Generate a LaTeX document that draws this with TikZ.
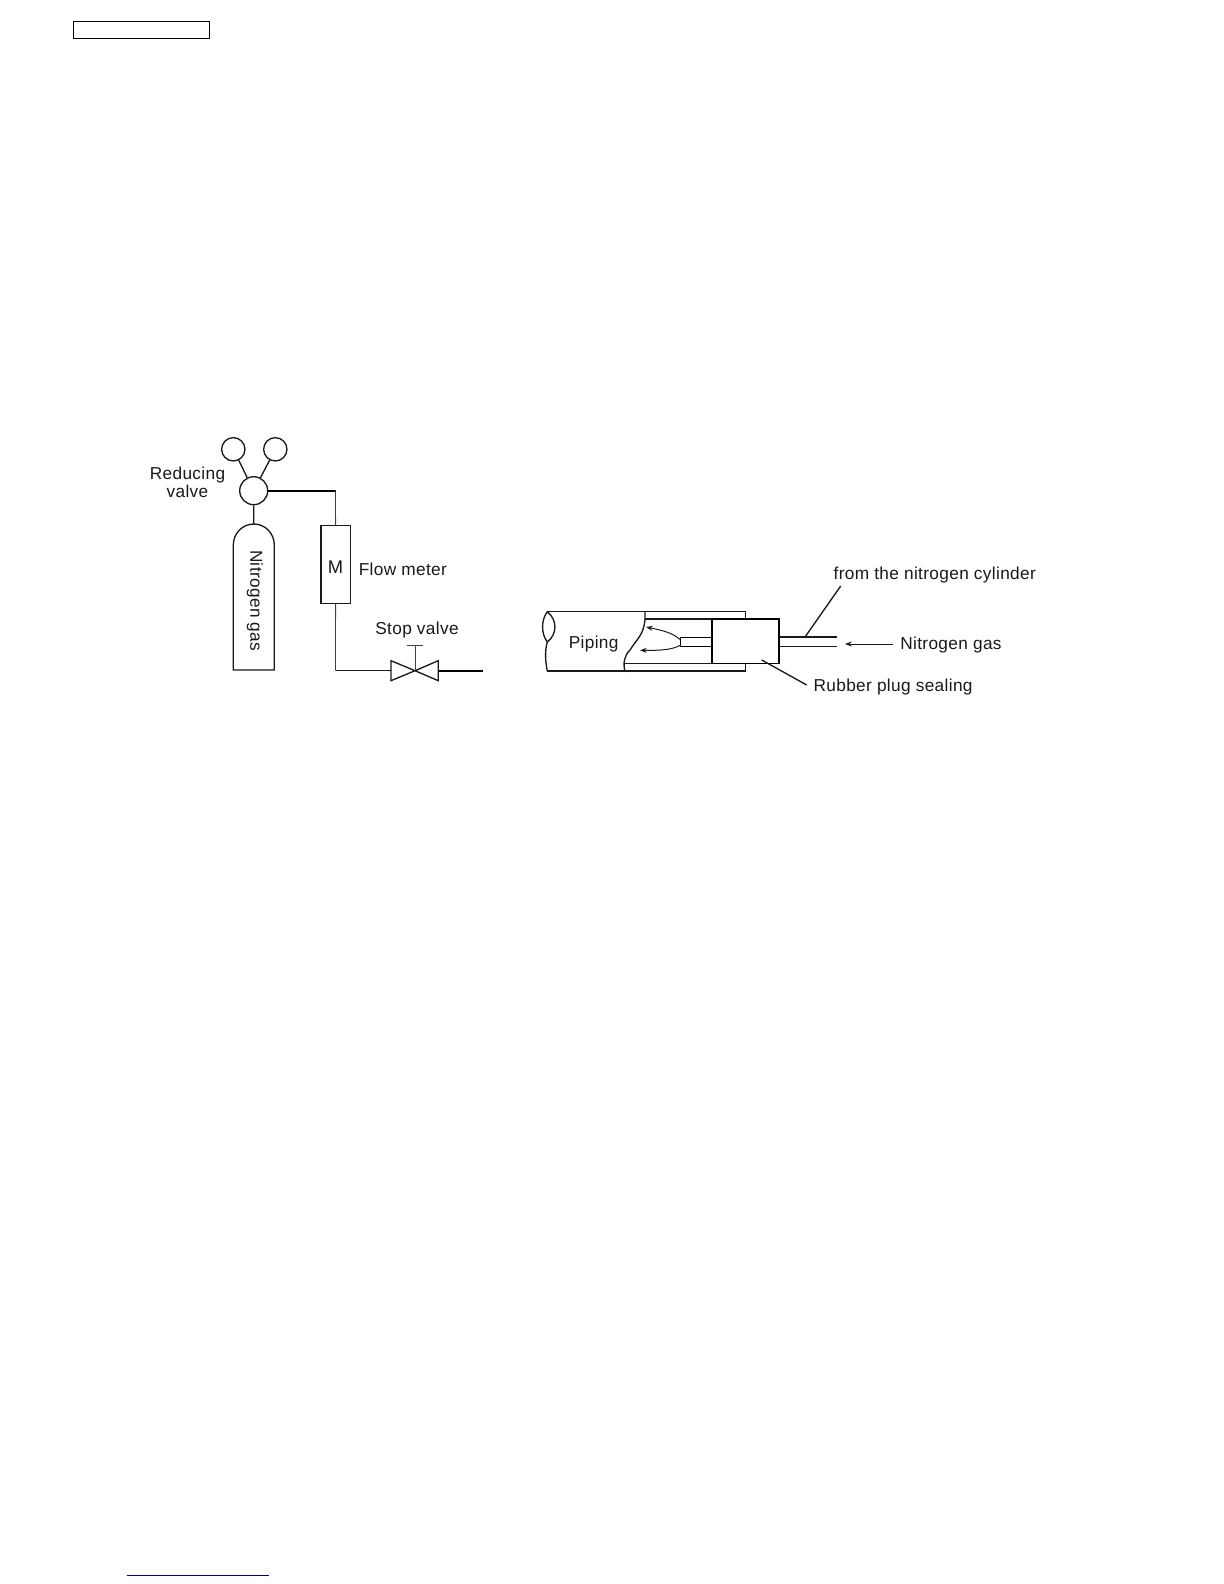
\documentclass[tikz,border=0pt]{standalone}
\usepackage{fontspec}
\setmainfont{Liberation Sans}
\newfontfamily\lbl[LetterSpace=2]{Liberation Sans}
\usetikzlibrary{arrows.meta}
\tikzset{
  x=0.6pt,y=-0.6pt,
  line/.style={draw=black!90,line width=0.8pt},
  thin line/.style={draw=black!75,line width=0.5pt},
  thick line/.style={draw=black,line width=1.1pt},
  round/.style={circle,draw=black!90,line width=0.8pt,inner sep=0pt,fill=white},
  lab/.style={inner sep=0pt,font=\fontsize{10.35}{12}\lbl,text=black!90},
  arrow/.style={draw=black!90,line width=0.6pt,-{Stealth[length=4pt,width=3pt]}}
}
\begin{document}
\begin{tikzpicture}
\useasboundingbox (0,0) rectangle (1224,1584);
% page marks
\node[draw=black,line width=0.7pt,minimum width=81.6pt,minimum height=10pt,inner sep=0pt] (hdr) at (141.5,29.8) {};
\coordinate (linkL) at (126.7,1575.3);
\coordinate (linkR) at (269,1575.3);
\draw[draw=blue!50!black,line width=0.8pt] (linkL) -- (linkR);
% nitrogen cylinder group
\node[round,minimum size=14pt] (g1) at (233.3,449.3) {};
\node[round,minimum size=14pt] (g2) at (275.3,449.3) {};
\node[round,minimum size=16.8pt] (rv) at (253.7,490.7) {};
\draw[line] (233.3,670) -- (233.3,545) arc[start angle=180,end angle=0,x radius=20.5,y radius=-21] -- (274.3,670) -- cycle;
\coordinate (cylTop) at (253.8,524);
\draw[line] (g1) -- (rv);
\draw[line] (g2) -- (rv);
\draw[line] (rv) -- (cylTop);
\node[draw=black!90,line width=0.8pt,minimum width=17.6pt,minimum height=46.6pt,inner sep=0pt] (fm) at (335.6,564.5) {};
\node[lab,font=\fontsize{11}{12}\selectfont] (mlab) at (335.5,567.5) {M};
\coordinate (elbow1) at (335.5,490.7);
\draw[thick line] (rv) -- (elbow1);
\draw[thin line] (elbow1) -- (fm.north);
\coordinate (elbow2) at (335.5,670.7);
\coordinate (vl) at (391,670.7);
\coordinate (vc) at (415,670.7);
\coordinate (vr) at (438.3,670.7);
\coordinate (outEnd) at (482.7,670.7);
\draw[thin line] (fm.south) -- (elbow2);
\draw[line] (elbow2) -- (vl);
\draw[line] (391,660.7) -- (vc) -- (391,680.7) -- cycle;
\draw[line] (438.3,660.7) -- (vc) -- (438.3,680.7) -- cycle;
\draw[thick line] (vr) -- (outEnd);
\coordinate (stemTop) at (415,645.7);
\draw[thin line] (vc) -- (stemTop);
\draw[thin line] (406.7,645.7) -- (422.7,645.7);
% labels left
\node[lab] (t1) at (187.5,474.8) {Reducing};
\node[lab] (t2) at (187.5,491.5) {valve};
\node[lab,rotate=-90] (t3) at (254.8,600.7) {Nitrogen gas};
\node[lab,anchor=west] (t4) at (358.5,569.5) {Flow meter};
\node[lab] (t5) at (417,630.3) {Stop valve};
% piping
\draw[line] (547.3,611.7) -- (745.7,611.7) -- (745.7,619);
\draw[line] (547.3,671) -- (745.7,671) -- (745.7,663.3);
\draw[line] (547.3,611.7) .. controls (541,620) and (541,634) .. (547.3,642)
  .. controls (557.5,634) and (557.5,620) .. (547.3,611.7);
\draw[line] (547.3,642) .. controls (545,650) and (545,660) .. (547.3,671);
\draw[line] (645,611.7) -- (645,619) .. controls (644,635) and (636,640) .. (630,650)
  .. controls (624,656) and (623,663) .. (625,672);
\draw[line] (645,619) -- (779.3,619);
\draw[line] (623.5,663.3) -- (779.3,663.3);
\node[draw=black,line width=0.85pt,fill=white,minimum width=40.4pt,minimum height=26.6pt,inner sep=0pt] (plug) at (745.5,641.2) {};
\node[draw=black,line width=0.7pt,minimum width=18.6pt,minimum height=5.4pt,inner sep=0pt] (nozzle) at (696.2,641.8) {};
\coordinate (a1) at (646,627);
\coordinate (a2) at (640,650.3);
\draw[arrow] (680.7,640) .. controls (672,632) and (660,630) .. (a1);
\draw[arrow] (680.7,645) .. controls (672,650) and (660,650.5) .. (a2);
\node[lab] (t6) at (593.7,644) {Piping};
% cylinder feed
\coordinate (p1) at (836.7,637);
\coordinate (p2) at (836.7,646.3);
\draw[line] (779.7,637) -- (p1);
\draw[line] (779.7,646.3) -- (p2);
\coordinate (ld1) at (840.7,586);
\coordinate (ld1e) at (805.7,636);
\draw[line] (ld1) -- (ld1e);
\coordinate (ng) at (892.7,644);
\coordinate (nge) at (845,644);
\draw[arrow] (ng) -- (nge);
\coordinate (ld2) at (806.7,685);
\coordinate (ld2e) at (761.7,660);
\draw[line] (ld2) -- (ld2e);
\node[lab,anchor=west] (t7) at (833.3,575.5) {from the nitrogen cylinder};
\node[lab,anchor=west] (t8) at (900,645.5) {Nitrogen gas};
\node[lab,anchor=west] (t9) at (813.3,687.5) {Rubber plug sealing};
\end{tikzpicture}
\end{document}
